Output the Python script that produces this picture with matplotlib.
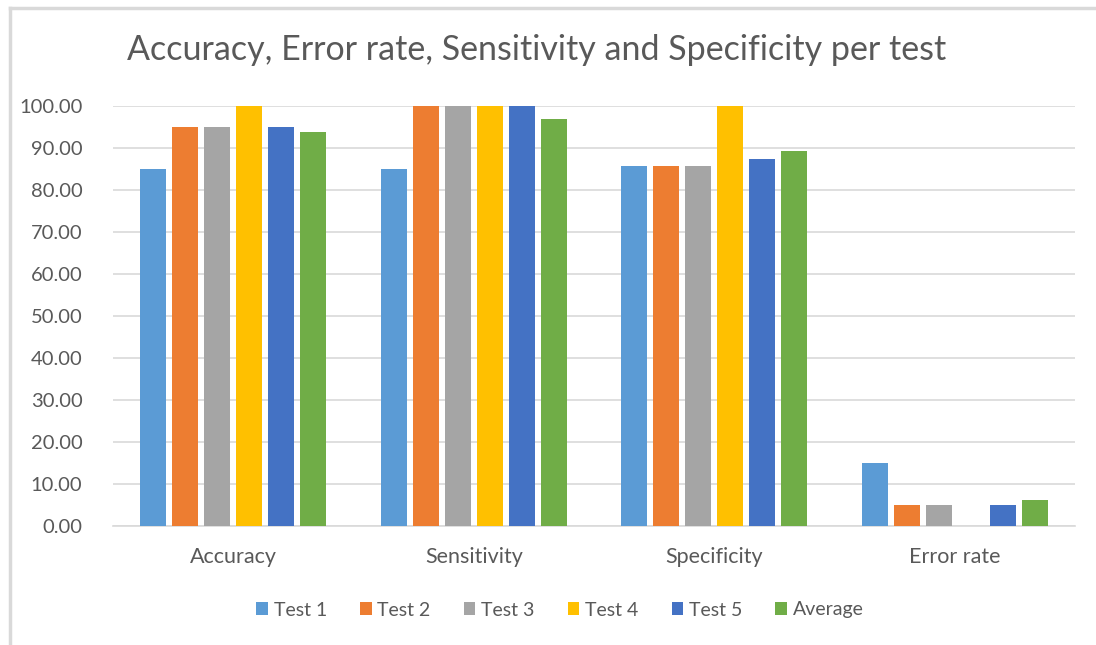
import numpy as np
import matplotlib
matplotlib.use("Agg")
import matplotlib.pyplot as plt
from matplotlib.lines import Line2D

metrics = ["Accuracy", "Sensitivity", "Specificity", "Error rate"]
series = ["Test 1", "Test 2", "Test 3", "Test 4", "Test 5", "Average"]
test1 = [85.0, 85.0, 85.71, 15.0]
test2 = [95.0, 100.0, 85.71, 5.0]
test3 = [95.0, 100.0, 85.71, 5.0]
test4 = [100.0, 100.0, 100.0, 0.0]
test5 = [95.0, 100.0, 87.5, 5.0]
average = [93.75, 97.0, 89.29, 6.25]
colors = ["#5B9BD5", "#ED7D31", "#A5A5A5", "#FFC000", "#4472C4", "#70AD47"]

plt.rcParams["font.family"] = ["Lato", "DejaVu Sans"]
text_gray = "#595959"

fig = plt.figure(figsize=(10.96, 6.45), dpi=100)
# light chart-area border: only the top and left edges show in the crop
fx, fy = 10 / 1096, 1 - 8 / 645
fig.lines.append(Line2D([fx, 1.0], [fy, fy], transform=fig.transFigure,
                        color="#d9d9d9", linewidth=2.5))
fig.lines.append(Line2D([fx, fx], [0.0, fy], transform=fig.transFigure,
                        color="#d9d9d9", linewidth=2.5))

ax = fig.add_axes([113 / 1096, 1 - 526 / 645, 962 / 1096, 420 / 645])
x = np.arange(len(metrics))
step = 0.133
width = 0.108
all_vals = [test1, test2, test3, test4, test5, average]
for i, (name, vals) in enumerate(zip(series, all_vals)):
    ax.bar(x + (i - 2.5) * step, vals, width, color=colors[i], label=name,
           zorder=3)

ax.set_xlim(-0.5, 3.5)
ax.set_ylim(0, 100)
ax.set_yticks(np.arange(0, 101, 10))
ax.set_yticklabels([f"{v:.2f}" for v in np.arange(0, 101, 10)])
ax.set_xticks(x)
ax.set_xticklabels(metrics)
ax.grid(axis="y", color="#d9d9d9", linewidth=1.2, zorder=0)
for s in ["top", "right", "left"]:
    ax.spines[s].set_visible(False)
ax.spines["bottom"].set_color("#d9d9d9")
ax.spines["bottom"].set_linewidth(1.2)
ax.tick_params(axis="y", length=0, colors=text_gray, labelsize=14.5, pad=22)
ax.tick_params(axis="x", length=0, colors=text_gray, labelsize=15.5, pad=15)

fig.text(537 / 1096, 1 - 50 / 645,
         "Accuracy, Error rate, Sensitivity and Specificity per test",
         ha="center", va="center", fontsize=24.5, color=text_gray)

fig.legend(loc="center", bbox_to_anchor=(560 / 1096, 1 - 610 / 645), ncol=6,
           frameon=False, fontsize=14, handlelength=0.6, handleheight=0.6,
           handletextpad=0.3, columnspacing=1.7, labelcolor=text_gray)

fig.savefig("out.png", dpi=100)
